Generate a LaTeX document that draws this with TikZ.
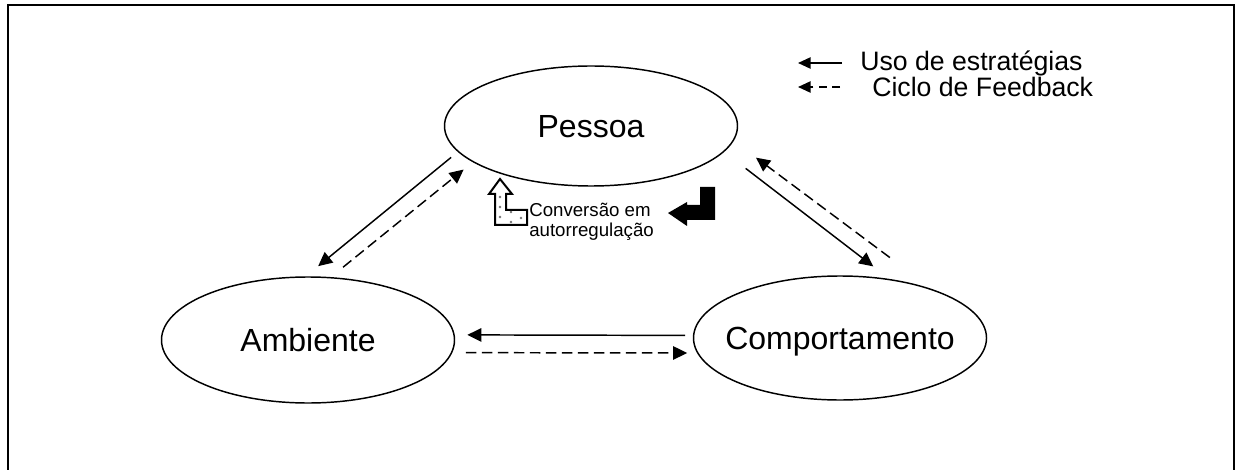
\documentclass[tikz,border=0pt]{standalone}
\usepackage{fontspec}
\setmainfont{Liberation Sans}
\usetikzlibrary{shapes.geometric,arrows.meta}

\tikzset{
    actor/.style = {ellipse, draw, line width=1.1pt, inner sep=0pt, minimum width=219.75pt},
    actor label/.style = {font=\fontsize{24}{28}\selectfont, text depth=0pt},
    uso/.style = {line width=1.1pt, -{Triangle[length=10.5pt,width=10pt]}},
    ciclo/.style = {uso, dash pattern=on 8pt off 4pt},
    legendtext/.style = {font=\fontsize{20}{24}\selectfont, inner sep=0pt, anchor=west},
}

\begin{document}
\begin{tikzpicture}[x=0.75pt,y=-0.75pt]
        \useasboundingbox (0,0) rectangle (1237,470);
        \draw[line width=1.6pt] (8,470) -- (8,5) -- (1234,5) -- (1234,470);

        \node[actor, minimum height=90pt, label={[actor label]center:Pessoa}] (pessoa) at (591,126) {};
        \node[actor, minimum height=94.5pt, label={[actor label]center:Ambiente}] (ambiente) at (308,340) {};
        \node[actor, minimum height=93pt, label={[actor label]center:Comportamento}] (comportamento) at (840,338) {};

        \draw[uso, shorten <=6.5pt, shorten >=12pt] (pessoa.191) -- (ambiente.92);
        \draw[uso, shorten <=20.3pt, shorten >=15.4pt] (pessoa.349) -- (comportamento.50);
        \draw[uso, shorten <=5.8pt, shorten >=9.4pt] (comportamento.179) -- (ambiente.2);
        \draw[ciclo, shorten <=11.7pt, shorten >=8.8pt] (ambiente.70) -- (pessoa.197);
        \draw[ciclo, shorten <=39.5pt, shorten >=20.9pt] (comportamento.28) -- (pessoa.354);
        \draw[ciclo, shorten <=10.1pt, shorten >=7.4pt] (ambiente.355) -- (comportamento.186);

        \node[legendtext] (usolegend) at (860,63) {Uso de estratégias};
        \node[legendtext] (ciclolegend) at (872,87) {Ciclo de Feedback};
        \coordinate (usotip) at (798,63);
        \coordinate (ciclotip) at (798,87);
        \draw[line width=1.1pt, -{Triangle[length=9.5pt,width=8.5pt]}, shorten <=13.5pt] (usolegend.west) -- (usotip);
        \draw[line width=1.1pt, dash pattern=on 6pt off 4pt, -{Triangle[length=9.5pt,width=8.5pt]}, shorten <=24pt] (ciclolegend.west) -- (ciclotip);

        \draw[line width=1.5pt, fill=white] (500,179) -- (512,194) -- (506,194) -- (506,210) -- (527,210)
            -- (527,225) -- (495,225) -- (495,194) -- (489,194) -- cycle;
        \foreach \p in {(500,197),(500,207),(500,217),(511,212),(511,222),(521,218)} {
            \fill[black!55] \p circle[radius=1pt];
        }
        \node[anchor=west, align=left, inner sep=0pt, font=\fontsize{14}{15}\selectfont] (conversao) at (529,222) {Conversão em\\autorregulação};
        \fill (700,187) -- (715,187) -- (715,220) -- (687,220) -- (687,226) -- (668,213) -- (687,202)
            -- (687,205) -- (700,205) -- cycle;
    \end{tikzpicture}
\end{document}
